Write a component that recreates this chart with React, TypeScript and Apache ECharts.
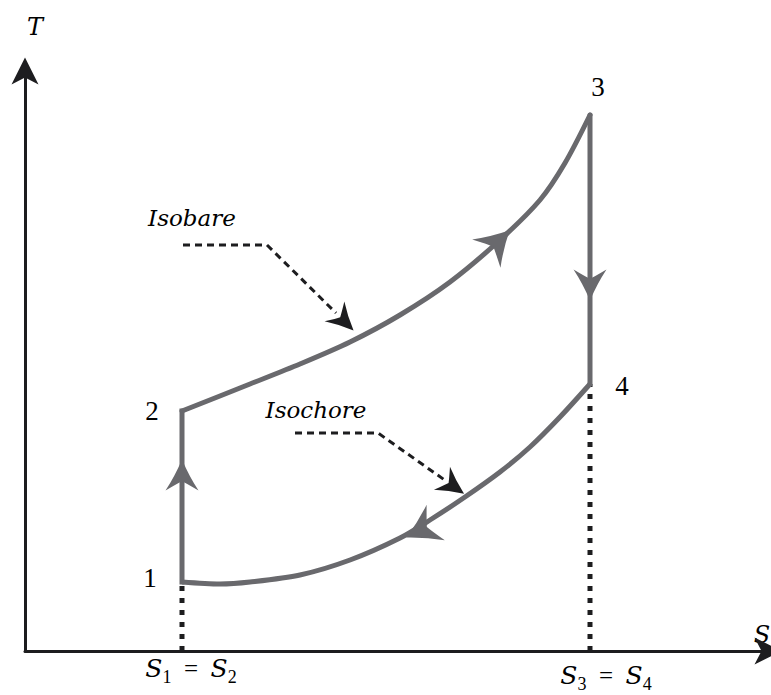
import React, { useEffect, useRef } from "react";
import * as echarts from "echarts";

// T-S diagram of an ideal cycle: two isentropes, an isobar and an isochore.
// Units: S and T are arbitrary diagram units.

const stateNames = ["1", "2", "3", "4"];
const stateS = [157, 157, 565, 565];
const stateT = [69, 240, 536, 267];
const stateLabelOffsets = [
  [-32, -4],
  [-30, 0],
  [8, -28],
  [32, 2],
];

// isobaric heat addition 2 -> 3
const isobareS = [157, 225, 275, 325, 375, 425, 475, 515, 540, 565];
const isobareT = [240, 267, 287, 309, 336, 369, 411, 451, 488, 536];

// isochoric heat rejection 4 -> 1
const isochoreS = [565, 535, 505, 475, 440, 405, 375, 325, 275, 225, 195, 157];
const isochoreT = [267, 234, 204, 179, 154, 131, 113, 91, 76, 69, 67, 69];

// direction-of-flow arrowheads: position, heading (deg) and size
const flowS = [157, 473, 565, 396];
const flowT = [176, 409, 366, 121];
const flowAngle = [0, -45, 180, 117];
const flowWidth = [33, 40, 33, 40];
const flowLength = [31, 33, 31, 33];

// pointer lines from the process names to their curves
const isobarePointerS = [158, 242, 311];
const isobarePointerT = [406, 406, 338];
const isochorePointerS = [270, 353, 421];
const isochorePointerT = [218, 218, 170];
const pointerHeadS = [319, 428];
const pointerHeadT = [330, 165];
const pointerHeadAngle = [-135, -125];

const S_MAX = 743;
const T_MAX = 580;

const GREY = "#69696d";
const INK = "#1d1d1f";
const ARROW = "path://M50 0 L100 100 L50 74 L0 100 Z";
const STEALTH =
  "path://M50 0 Q72 55 100 100 Q62 76 50 70 Q38 76 0 100 Q28 55 50 0 Z";
const SERIF = "'Liberation Serif', 'DejaVu Serif', serif";
const ITALIC = "'DejaVu Serif', serif";

const zip = (a: number[], b: number[]) => a.map((v, i) => [v, b[i]]);

function subscriptLabel(a: string, b: string, x: number, y: number) {
  return {
    type: "text",
    x,
    y,
    style: {
      text: `{s|S}{sub|${a}}{eq|  =  }{s|S}{sub|${b}}`,
      align: "center",
      verticalAlign: "middle",
      rich: {
        s: { font: `italic 25px ${ITALIC}`, fill: "#000", lineHeight: 28, verticalAlign: "top" },
        sub: { font: `18px ${SERIF}`, fill: "#000", lineHeight: 18, padding: [12, 0, 0, 0], verticalAlign: "top" },
        eq: { font: `25px ${SERIF}`, fill: "#000", lineHeight: 28, verticalAlign: "top" },
      },
    },
  };
}

function buildOption(): echarts.EChartsOption {
  const axisCommon = {
    type: "value" as const,
    min: 0,
    axisTick: { show: false },
    axisLabel: { show: false },
    splitLine: { show: false },
    axisLine: {
      show: true,
      lineStyle: { color: INK, width: 3 },
      symbol: ["none", ARROW],
      symbolSize: [27, 28],
    },
  };

  return {
    animation: false,
    backgroundColor: "#ffffff",
    grid: { left: 25, right: 3, top: 71, bottom: 44 },
    xAxis: { ...axisCommon, max: S_MAX },
    yAxis: { ...axisCommon, max: T_MAX },
    series: [
      // dotted drop lines to the S axis
      {
        type: "line",
        data: [
          [stateS[0], 0],
          [stateS[0], stateT[0]],
        ],
        symbol: "none",
        lineStyle: { color: INK, width: 5, type: [5, 7] },
        z: 1,
      },
      {
        type: "line",
        data: [
          [stateS[3], 0],
          [stateS[3], stateT[3]],
        ],
        symbol: "none",
        lineStyle: { color: INK, width: 5, type: [5, 7] },
        z: 1,
      },
      // 1 -> 2 isentropic compression
      {
        type: "line",
        data: [
          [stateS[0], stateT[0]],
          [stateS[1], stateT[1]],
        ],
        symbol: "none",
        lineStyle: { color: GREY, width: 5, cap: "square" },
        z: 2,
      },
      // 2 -> 3 isobar
      {
        type: "line",
        data: zip(isobareS, isobareT),
        smooth: 0.3,
        symbol: "none",
        lineStyle: { color: GREY, width: 5, cap: "round" },
        z: 2,
      },
      // 3 -> 4 isentropic expansion
      {
        type: "line",
        data: [
          [stateS[2], stateT[2]],
          [stateS[3], stateT[3]],
        ],
        symbol: "none",
        lineStyle: { color: GREY, width: 5, cap: "round" },
        z: 2,
      },
      // 4 -> 1 isochore
      {
        type: "line",
        data: zip(isochoreS, isochoreT),
        smooth: 0.3,
        symbol: "none",
        lineStyle: { color: GREY, width: 5 },
        z: 2,
      },
      // flow arrowheads
      {
        type: "scatter",
        data: flowS.map((s, i) => ({
          value: [s, flowT[i]],
          symbolRotate: flowAngle[i],
          symbolSize: [flowWidth[i], flowLength[i]],
        })),
        symbol: STEALTH,
        itemStyle: { color: GREY, opacity: 1 },
        z: 3,
      },
      // pointer lines
      {
        type: "line",
        data: zip(isobarePointerS, isobarePointerT),
        symbol: "none",
        lineStyle: { color: INK, width: 3, type: [7, 5] },
        z: 3,
      },
      {
        type: "line",
        data: zip(isochorePointerS, isochorePointerT),
        symbol: "none",
        lineStyle: { color: INK, width: 3, type: [7, 5] },
        z: 3,
      },
      {
        type: "scatter",
        data: pointerHeadS.map((s, i) => ({
          value: [s, pointerHeadT[i]],
          symbolRotate: pointerHeadAngle[i],
        })),
        symbol: STEALTH,
        symbolSize: [28, 27],
        itemStyle: { color: INK, opacity: 1 },
        z: 4,
      },
      // state numbers
      {
        type: "scatter",
        data: stateNames.map((n, i) => ({
          value: [stateS[i], stateT[i]],
          name: n,
          label: {
            show: true,
            position: "inside",
            offset: stateLabelOffsets[i],
            formatter: n,
          },
        })),
        symbolSize: 1,
        itemStyle: { color: "rgba(0,0,0,0)", opacity: 1 },
        label: {
          color: "#000",
          opacity: 1,
          fontFamily: SERIF,
          fontSize: 27,
          align: "center",
          verticalAlign: "middle",
        },
        z: 5,
      },
    ],
    graphic: [
      {
        type: "text",
        x: 35,
        y: 27,
        style: {
          text: "T",
          fill: "#000",
          font: `italic 24px ${ITALIC}`,
          align: "center",
          verticalAlign: "middle",
        },
      },
      {
        type: "text",
        x: 762,
        y: 635,
        style: {
          text: "S",
          fill: "#000",
          font: `italic 24px ${ITALIC}`,
          align: "center",
          verticalAlign: "middle",
        },
      },
      {
        type: "text",
        x: 192,
        y: 218,
        style: {
          text: "Isobare",
          fill: "#000",
          font: `italic 23px ${ITALIC}`,
          align: "center",
          verticalAlign: "middle",
        },
      },
      {
        type: "text",
        x: 316,
        y: 410,
        style: {
          text: "Isochore",
          fill: "#000",
          font: `italic 23px ${ITALIC}`,
          align: "center",
          verticalAlign: "middle",
        },
      },
      subscriptLabel("1", "2", 191, 670),
      subscriptLabel("3", "4", 606, 677),
    ],
  } as echarts.EChartsOption;
}

export default function App() {
  const ref = useRef<HTMLDivElement>(null);
  useEffect(() => {
    if (!ref.current) return;
    const chart = echarts.init(ref.current, null, { renderer: "svg" });
    chart.setOption(buildOption());
    return () => chart.dispose();
  }, []);
  return (
    <div
      ref={ref}
      style={{ position: "absolute", left: 0, top: 0, width: 771, height: 695 }}
    />
  );
}
